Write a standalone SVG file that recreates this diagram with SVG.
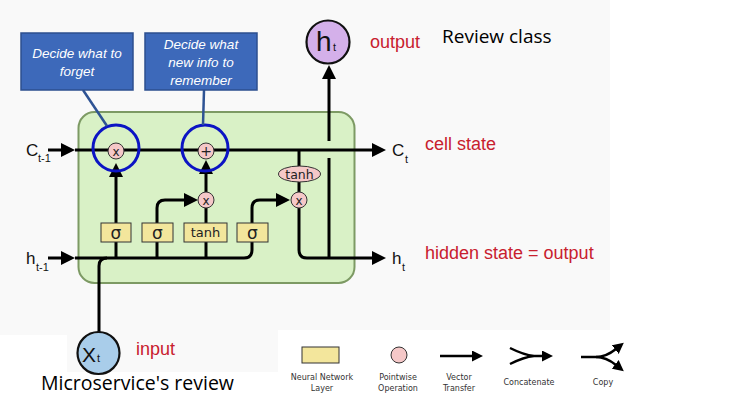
<svg xmlns="http://www.w3.org/2000/svg" width="750" height="411" viewBox="0 0 750 411">
<defs>
<marker id="ah" markerUnits="userSpaceOnUse" markerWidth="14" markerHeight="14" refX="1" refY="7" orient="auto"><path d="M0,0 L14,7 L0,14 z" fill="#000"/></marker>
<marker id="ahs" markerUnits="userSpaceOnUse" markerWidth="11" markerHeight="11" refX="1" refY="5.5" orient="auto"><path d="M0,0 L11,5.5 L0,11 z" fill="#000"/></marker>
<style>
.ln{fill:none;stroke:#000;stroke-width:3}
.lg{fill:none;stroke:#000;stroke-width:2.5}
.nn{fill:#f3e69c;stroke:#333;stroke-width:1}
.pw{fill:#f5c8c8;stroke:#333;stroke-width:1}
.blue{fill:none;stroke:#0c14c4;stroke-width:3}
.call{fill:#3d69ba;stroke:#2c4f8f;stroke-width:1.5}
.lead{stroke:#2e5394;stroke-width:2.5}
.ct{font-family:"Liberation Sans",Arial,sans-serif;font-style:italic;font-size:13.5px;fill:#fff;text-anchor:middle}
.lab{font-family:"Liberation Sans",Arial,sans-serif;fill:#111}
.red{font-family:"Liberation Sans",Arial,sans-serif;font-size:18px;fill:#c8202e}
.blk{font-family:"Open Sans","Liberation Sans",sans-serif;fill:#000}
.op{font-family:"DejaVu Sans",sans-serif;fill:#222;text-anchor:middle}
.leg{font-family:"DejaVu Sans",sans-serif;font-size:8px;fill:#333;text-anchor:middle}
</style>
</defs>
<rect width="750" height="411" fill="#fff"/>
<path d="M0 0 H610 V330 H278 V372 H67 V335 H0 Z" fill="#f9f9f9"/>

<g id="cell">
<rect x="78.5" y="112" width="276" height="171" rx="16" fill="#d9f1c6" stroke="#7d9a64" stroke-width="2"/>
</g>

<g id="connectors">
<path class="ln" d="M48 150 H62" marker-end="url(#ah)"/>
<path class="ln" d="M75 150 H373" marker-end="url(#ah)"/>
<path class="ln" d="M48 258 H62" marker-end="url(#ah)"/>
<path class="ln" d="M75 258 H244 Q252 258 252 250 V208 Q252 200 260 200 H277" marker-end="url(#ah)"/>
<path class="ln" d="M99 332 V266 Q99 258 107 258"/>
<path class="ln" d="M116 258 V176" marker-end="url(#ah)"/>
<path class="ln" d="M157 258 V208 Q157 200 165 200 H185" marker-end="url(#ah)"/>
<path class="ln" d="M206 258 V208"/>
<path class="ln" d="M206 192 V173" marker-end="url(#ah)"/>
<path class="ln" d="M299 150 V192"/>
<path class="ln" d="M299 208 V250 Q299 258 307 258 H373" marker-end="url(#ah)"/>
<path class="ln" d="M329 258 V158"/>
<path class="ln" d="M329 141 V78" marker-end="url(#ah)"/>
</g>

<g id="sigma1"><rect class="nn" x="101" y="223" width="30" height="19"/><text class="op" x="116" y="238.5" font-size="17">σ</text></g>
<g id="sigma2"><rect class="nn" x="142" y="223" width="31" height="19"/><text class="op" x="157.5" y="238.5" font-size="17">σ</text></g>
<g id="tanh1"><rect class="nn" x="184" y="223" width="43" height="19"/><text class="op" x="205.5" y="237" font-size="13">tanh</text></g>
<g id="sigma3"><rect class="nn" x="237" y="223" width="31" height="19"/><text class="op" x="252.5" y="238.5" font-size="17">σ</text></g>

<g id="mul-forget"><circle class="pw" cx="116" cy="151" r="8"/><text class="op" x="116" y="155.5" font-size="12">x</text></g>
<g id="add"><circle class="pw" cx="206" cy="151" r="8"/><text class="op" x="206" y="156" font-size="14">+</text></g>
<g id="mul-input"><circle class="pw" cx="206" cy="200" r="8"/><text class="op" x="206" y="204.5" font-size="12">x</text></g>
<g id="mul-output"><circle class="pw" cx="299" cy="200" r="8"/><text class="op" x="299" y="204.5" font-size="12">x</text></g>
<g id="tanh2"><ellipse class="pw" cx="299.5" cy="174" rx="21" ry="8"/><text class="op" x="299.5" y="178.5" font-size="12.5">tanh</text></g>

<g id="forget-gate"><circle class="blue" cx="116" cy="148" r="23"/></g>
<g id="input-gate"><circle class="blue" cx="205" cy="148" r="23"/></g>

<g id="callout-forget">
<line class="lead" x1="83" y1="90" x2="107" y2="126"/>
<rect class="call" x="21" y="33" width="112" height="57"/>
<text class="ct" x="77" y="58">Decide what to</text>
<text class="ct" x="77" y="76">forget</text>
</g>
<g id="callout-input">
<line class="lead" x1="204" y1="90" x2="203" y2="125"/>
<rect class="call" x="145" y="33" width="112" height="57"/>
<text class="ct" x="201" y="49">Decide what</text>
<text class="ct" x="201" y="67">new info to</text>
<text class="ct" x="201" y="85">remember</text>
</g>

<g id="c-prev"><text class="lab" x="26" y="156" font-size="17">C</text><text class="lab" x="38" y="162" font-size="11">t-1</text></g>
<g id="h-prev"><text class="lab" x="26" y="264" font-size="17">h</text><text class="lab" x="36" y="271" font-size="11">t-1</text></g>
<g id="c-t"><text class="lab" x="392" y="156" font-size="17">C</text><text class="lab" x="405" y="163" font-size="11">t</text><text class="red" x="425" y="150">cell state</text></g>
<g id="h-t-out"><text class="lab" x="392" y="264" font-size="17">h</text><text class="lab" x="402" y="271" font-size="11">t</text><text class="red" x="425" y="259">hidden state = output</text></g>

<g id="h-t">
<circle cx="328" cy="42" r="21.5" fill="#d4b0ea" stroke="#111" stroke-width="2.2"/>
<text class="lab" x="316" y="51" font-size="28">h</text><text class="lab" x="333" y="51" font-size="11">t</text>
<text class="red" x="370" y="48">output</text>
<text class="blk" x="442" y="43" font-size="19">Review class</text>
</g>

<g id="x-t">
<circle cx="98.5" cy="353" r="21" fill="#a9cdea" stroke="#111" stroke-width="2.2"/>
<text class="lab" x="82" y="362" font-size="21">X</text><text class="lab" x="97" y="362" font-size="11">t</text>
<text class="red" x="136" y="355">input</text>
<text class="blk" x="41" y="390" font-size="19.5">Microservice's review</text>
</g>

<g id="legend">
<rect class="nn" x="302" y="347" width="37" height="16" stroke-width="1.2"/>
<text class="leg" x="322" y="380">Neural Network</text><text class="leg" x="322" y="391">Layer</text>
<circle class="pw" cx="399" cy="355" r="8"/>
<text class="leg" x="398" y="380">Pointwise</text><text class="leg" x="398" y="391">Operation</text>
<path class="lg" d="M440 356 H473" marker-end="url(#ahs)"/>
<text class="leg" x="459" y="380">Vector</text><text class="leg" x="459" y="391">Transfer</text>
<path class="lg" d="M510 348 Q524 355 534 356 M510 364 Q524 357 534 356 H543" marker-end="url(#ahs)"/>
<text class="leg" x="529" y="385">Concatenate</text>
<path class="lg" d="M581 357 H596 Q606 357 616 349" marker-end="url(#ahs)"/>
<path class="lg" d="M596 357 Q606 357 616 365" marker-end="url(#ahs)"/>
<text class="leg" x="603" y="385">Copy</text>
</g>
</svg>
